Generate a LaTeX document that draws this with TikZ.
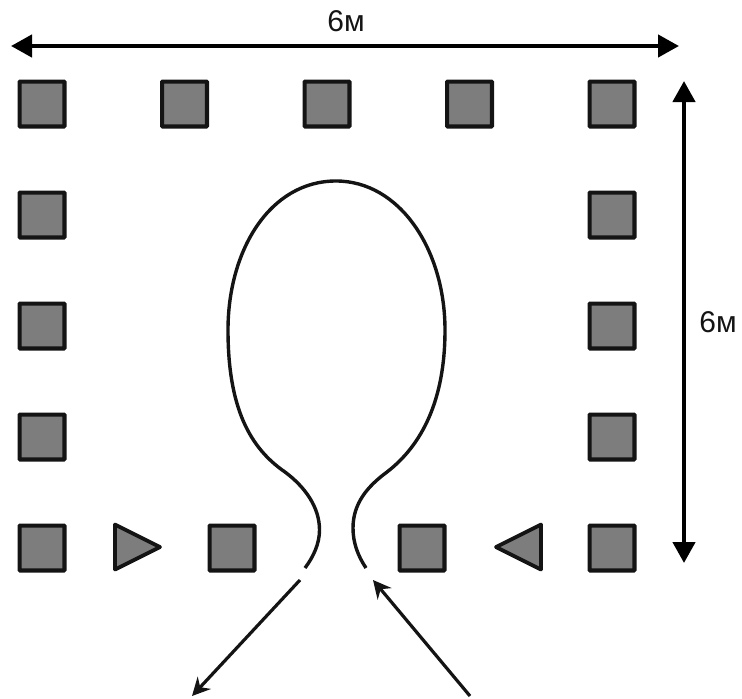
\documentclass[tikz,border=0pt]{standalone}
\usepackage{fontspec}
\setmainfont{Liberation Sans}
\usetikzlibrary{arrows.meta}
\definecolor{fillgray}{RGB}{125,125,125}
\definecolor{inkdark}{RGB}{20,20,20}
\tikzset{
  post/.style={draw=inkdark,fill=fillgray,line width=4.2pt,minimum size=44.8pt,inner sep=0pt,rounded corners=0.6pt,outer sep=0pt},
  gate/.style={draw=inkdark,fill=fillgray,line width=3.8pt,line join=round},
  dimension/.style={line width=4.4pt,{Triangle[length=21pt,width=22pt]}-{Triangle[length=21pt,width=22pt]}},
  flow/.style={line width=3.2pt,inkdark,-{Stealth[length=18pt,width=18pt,inset=6pt]}},
  path line/.style={line width=3.4pt,inkdark},
  lbl/.style={font=\fontsize{30}{32}\selectfont,text=inkdark,inner sep=0pt}
}
\begin{document}
\begin{tikzpicture}[x=1pt,y=-1pt]
\useasboundingbox (0,0) rectangle (742,699);
\foreach \n/\x/\y in {a/42/104,b/184.5/104,c/327/104,d/469.5/104,e/612/104,
  f/42/215,g/612/215,h/42/326,i/612/326,j/42/437,k/612/437,
  l/42/548,m/232/548,n/422/548,o/612/548}
  \node[post] (\n) at (\x,\y) {};
\draw[gate] (115,524.5) -- (160,547) -- (115,569.5) -- cycle;
\draw[gate] (541,524.5) -- (496,547) -- (541,569.5) -- cycle;
\coordinate (wl) at (11,46);
\coordinate (wr) at (679,46);
\coordinate (ht) at (684,81);
\coordinate (hb) at (684,563);
\draw[dimension] (wl) -- (wr);
\draw[dimension] (ht) -- (hb);
\node[lbl] (wlabel) at (346,21) {6м};
\node[lbl] (hlabel) at (718,322) {6м};
\coordinate (ol) at (305,568);
\coordinate (or) at (366,568);
\draw[path line] (ol) .. controls (314,556) and (319.5,543) .. (319.5,530)
  .. controls (319.5,507) and (305,487) .. (285,472)
  .. controls (250,448) and (228,408) .. (228,330)
  .. controls (228,250) and (270,181) .. (336,181)
  .. controls (400,181) and (445,250) .. (445,330)
  .. controls (445,400) and (422,445) .. (387,472)
  .. controls (368,486) and (353,503) .. (353,528)
  .. controls (353,543) and (358,556) .. (or);
\coordinate (ofrom) at (300,580);
\coordinate (oto) at (192,696);
\coordinate (ifrom) at (470,696);
\coordinate (ito) at (373,580);
\draw[flow] (ofrom) -- (oto);
\draw[flow] (ifrom) -- (ito);
\end{tikzpicture}
\end{document}
